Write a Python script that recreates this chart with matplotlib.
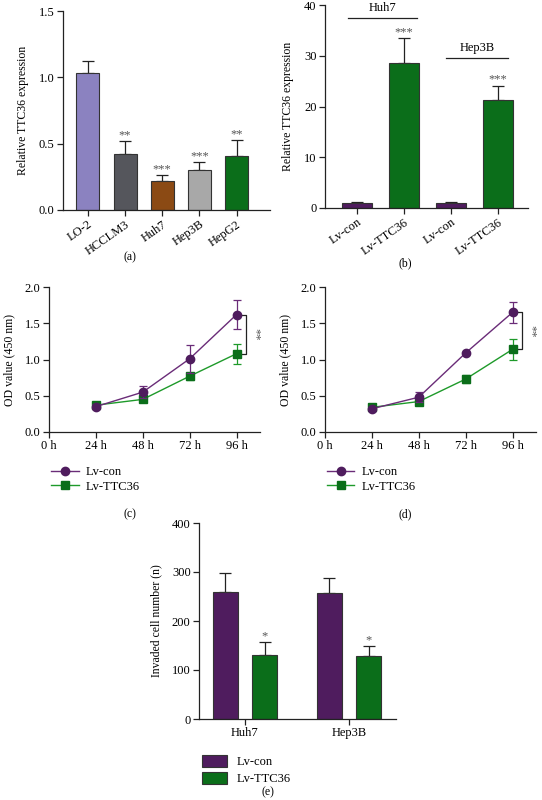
import matplotlib
matplotlib.use("Agg")
import matplotlib.pyplot as plt
import numpy as np
from matplotlib.patches import Patch
from matplotlib.lines import Line2D

plt.rcParams['font.family'] = ['Liberation Serif', 'DejaVu Serif']
plt.rcParams['font.size'] = 9

# ---------------- data ----------------
a_cats = ["LO-2", "HCCLM3", "Huh7", "Hep3B", "HepG2"]
a_vals = [1.035, 0.42, 0.22, 0.30, 0.41]
a_errs = [0.085, 0.10, 0.045, 0.06, 0.115]
a_stars = ["", "**", "***", "***", "**"]
a_colors = ["#8B82C0", "#55565C", "#8B4A14", "#A8A8A8", "#0B6E1A"]

b_cats = ["Lv-con", "Lv-TTC36", "Lv-con", "Lv-TTC36"]
b_vals = [1.0, 28.5, 1.0, 21.2]
b_errs = [0.15, 5.0, 0.15, 2.9]
b_stars = ["", "***", "", "***"]
b_groups = ["Huh7", "Hep3B"]

hours = [24, 48, 72, 96]
hour_ticks = [0, 24, 48, 72, 96]
hour_labels = ["0 h", "24 h", "48 h", "72 h", "96 h"]
c_con = [0.35, 0.55, 1.01, 1.62]
c_con_err = [0.03, 0.08, 0.19, 0.20]
c_ttc = [0.37, 0.45, 0.77, 1.08]
c_ttc_err = [0.03, 0.02, 0.05, 0.14]
d_con = [0.32, 0.48, 1.09, 1.65]
d_con_err = [0.02, 0.07, 0.02, 0.14]
d_ttc = [0.34, 0.42, 0.73, 1.14]
d_ttc_err = [0.02, 0.03, 0.06, 0.14]

e_groups = ["Huh7", "Hep3B"]
e_con = [260, 258]
e_con_err = [37, 30]
e_ttc = [131, 128]
e_ttc_err = [26, 21]

series_names = ["Lv-con", "Lv-TTC36"]
PURPLE = "#4F1C5E"
LPURPLE = "#6A2C78"
GREEN = "#0B6E1A"
LGREEN = "#1E9A2A"
EDGE = "#333333"

W, H = 542, 800
fig = plt.figure(figsize=(W / 100, H / 100), dpi=100)


def add_ax(l, t, r, b):
    return fig.add_axes([l / W, 1 - b / H, (r - l) / W, (b - t) / H])


def style(ax):
    for s in ["top", "right"]:
        ax.spines[s].set_visible(False)
    for s in ["left", "bottom"]:
        ax.spines[s].set_linewidth(0.9)
        ax.spines[s].set_color("#222222")
    ax.tick_params(length=4, width=0.9, color="#222222", labelsize=9, pad=2)


def fx(px):
    return px / W


def fy(py):
    return 1 - py / H


YL = 8.5

# ---------------- (a) ----------------
ax = add_ax(63, 11, 270, 210)
style(ax)
xa = np.arange(len(a_cats))
ax.bar(xa, a_vals, width=0.62, color=a_colors, edgecolor=EDGE, linewidth=0.8, zorder=2)
ax.errorbar(xa, a_vals, yerr=[np.zeros(len(a_vals)), a_errs], fmt="none",
            ecolor="#222222", elinewidth=0.9, capsize=4, capthick=0.9, zorder=1)
for x, v, e, s in zip(xa, a_vals, a_errs, a_stars):
    if s:
        ax.text(x, v + e + 0.0, s, ha="center", va="bottom", fontsize=9, color="#555555")
ax.set_xlim(-0.67, 4.9)
ax.set_ylim(0, 1.5)
ax.set_yticks([0, 0.5, 1.0, 1.5])
ax.set_yticklabels(["0.0", "0.5", "1.0", "1.5"])
ax.set_xticks(xa)
ax.set_xticklabels(a_cats, rotation=35, ha="right", rotation_mode="anchor")
ax.set_ylabel("Relative TTC36 expression", fontsize=YL, labelpad=7)
fig.text(fx(130), fy(257), "(a)", ha="center", va="center", fontsize=8.5)

# ---------------- (b) ----------------
ax = add_ax(325, 5, 528, 208)
style(ax)
xb = np.arange(len(b_cats))
bcols = [PURPLE, GREEN, PURPLE, GREEN]
ax.bar(xb, b_vals, width=0.64, color=bcols, edgecolor=EDGE, linewidth=0.8, zorder=2)
ax.errorbar(xb, b_vals, yerr=[np.zeros(len(b_vals)), b_errs], fmt="none",
            ecolor="#222222", elinewidth=0.9, capsize=4, capthick=0.9, zorder=1)
for x, v, e, s in zip(xb, b_vals, b_errs, b_stars):
    if s:
        ax.text(x, v + e, s, ha="center", va="bottom", fontsize=9, color="#555555")
ax.set_xlim(-0.68, 3.64)
ax.set_ylim(0, 40)
ax.set_yticks([0, 10, 20, 30, 40])
ax.set_xticks(xb)
ax.set_xticklabels(b_cats, rotation=35, ha="right", rotation_mode="anchor")
ax.set_ylabel("Relative TTC36 expression", fontsize=YL, labelpad=7)
# group lines
for (x0, x1, y, lab) in [(-0.2, 1.28, 37.5, b_groups[0]), (1.9, 3.22, 29.6, b_groups[1])]:
    ax.plot([x0, x1], [y, y], color="#222222", lw=0.9, clip_on=False)
    ax.text((x0 + x1) / 2, y + 0.8, lab, ha="center", va="bottom", fontsize=9)
fig.text(fx(405), fy(263), "(b)", ha="center", va="center", fontsize=8.5)


# ---------------- (c), (d) ----------------
def line_panel(l, r, con, con_err, ttc, ttc_err, label, lab_x, leg_x):
    ax = add_ax(l, 287, r, 432)
    style(ax)
    ax.errorbar(hours, con, yerr=con_err, color=LPURPLE, ecolor=LPURPLE, lw=1.0,
                marker="o", ms=6, mfc=PURPLE, mec=PURPLE, capsize=3, elinewidth=0.9,
                capthick=0.9, zorder=3)
    ax.errorbar(hours, ttc, yerr=ttc_err, color=LGREEN, ecolor=LGREEN, lw=1.0,
                marker="s", ms=5.5, mfc=GREEN, mec=GREEN, capsize=3, elinewidth=0.9,
                capthick=0.9, zorder=2)
    ax.set_xlim(0, 108)
    ax.set_ylim(0, 2.0)
    ax.set_xticks(hour_ticks)
    ax.set_xticklabels(hour_labels)
    ax.set_yticks([0, 0.5, 1.0, 1.5, 2.0])
    ax.set_yticklabels(["0.0", "0.5", "1.0", "1.5", "2.0"])
    ax.set_ylabel("OD value (450 nm)", fontsize=YL, labelpad=7)
    # significance bracket
    bx = 101
    ax.plot([97.5, bx, bx, 97.5], [con[-1], con[-1], ttc[-1], ttc[-1]],
            color="#222222", lw=0.9, clip_on=False)
    ax.text(bx + 1.5, (con[-1] + ttc[-1]) / 2, "**", rotation=270, ha="left",
            va="center", fontsize=9, color="#555555")
    handles = [
        Line2D([], [], color=LPURPLE, lw=1.0, marker="o", ms=6, mfc=PURPLE, mec=PURPLE),
        Line2D([], [], color=LGREEN, lw=1.0, marker="s", ms=5.5, mfc=GREEN, mec=GREEN),
    ]
    fig.legend(handles, series_names, loc="upper left",
               bbox_to_anchor=(fx(leg_x), fy(461)), frameon=False, fontsize=9,
               handlelength=2.2, handletextpad=0.6, labelspacing=0.2, borderaxespad=0)
    fig.text(fx(lab_x), fy(514), label, ha="center", va="center", fontsize=8.5)


line_panel(49, 260, c_con, c_con_err, c_ttc, c_ttc_err, "(c)", 130, 46)
line_panel(325, 536, d_con, d_con_err, d_ttc, d_ttc_err, "(d)", 405, 322)

# ---------------- (e) ----------------
ax = add_ax(199, 523, 396, 719)
style(ax)
xe = np.arange(len(e_groups))
off = 0.19
bw = 0.24
ax.bar(xe - off, e_con, width=bw, color=PURPLE, edgecolor=EDGE, linewidth=0.8, zorder=2)
ax.bar(xe + off, e_ttc, width=bw, color=GREEN, edgecolor=EDGE, linewidth=0.8, zorder=2)
ax.errorbar(xe - off, e_con, yerr=[np.zeros(2), e_con_err], fmt="none",
            ecolor="#222222", elinewidth=0.9, capsize=4, capthick=0.9, zorder=1)
ax.errorbar(xe + off, e_ttc, yerr=[np.zeros(2), e_ttc_err], fmt="none",
            ecolor="#222222", elinewidth=0.9, capsize=4, capthick=0.9, zorder=1)
for x, v, e in zip(xe + off, e_ttc, e_ttc_err):
    ax.text(x, v + e, "*", ha="center", va="bottom", fontsize=9, color="#555555")
ax.set_xlim(-0.44, 1.45)
ax.set_ylim(0, 400)
ax.set_yticks([0, 100, 200, 300, 400])
ax.set_xticks(xe)
ax.set_xticklabels(e_groups)
ax.set_ylabel("Invaded cell number (n)", fontsize=YL, labelpad=7)
handles = [Patch(facecolor=PURPLE, edgecolor=EDGE, linewidth=0.8),
           Patch(facecolor=GREEN, edgecolor=EDGE, linewidth=0.8)]
fig.legend(handles, series_names, loc="upper left", bbox_to_anchor=(fx(197), fy(750)),
           frameon=False, fontsize=9, handlelength=2.0, handleheight=1.1,
           handletextpad=0.8, labelspacing=0.3, borderaxespad=0)
fig.text(fx(268), fy(792), "(e)", ha="center", va="center", fontsize=8.5)

fig.savefig("out.png", dpi=100)
